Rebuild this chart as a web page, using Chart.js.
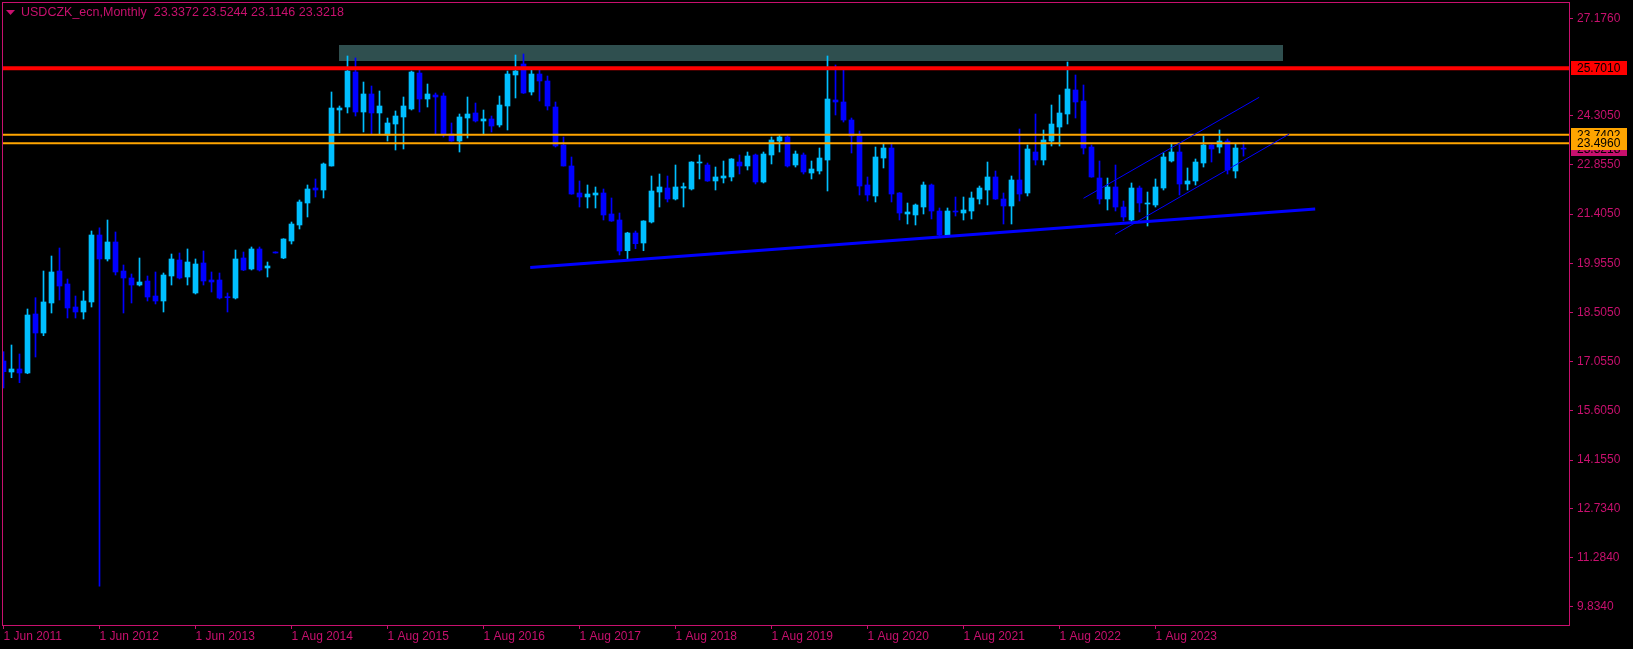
<!DOCTYPE html>
<html>
<head>
<meta charset="utf-8">
<script src="https://cdn.jsdelivr.net/npm/chart.js@4.4.1/dist/chart.umd.min.js"></script>
<style>
  html, body { margin: 0; padding: 0; background: #000; overflow: hidden; }
</style>
</head>
<body>
<canvas id="chart" width="1633" height="649"></canvas>
<script>
const FG = "#c8106e";
const BULL = "#00bfff";
const BEAR = "#0000ff";
const FONT = "Liberation Sans";

const title = "USDCZK_ecn,Monthly  23.3372 23.5244 23.1146 23.3218";

// monthly bars, index 0 = Jun 2011
const opens = [
  17.076, 16.751, 16.840, 16.722, 18.461, 17.901, 18.785, 19.728, 19.345, 18.667,
  18.520, 18.815, 20.789, 20.082, 20.583, 19.728, 19.522, 19.315, 19.433, 18.991,
  18.844, 19.581, 20.052, 19.551, 19.080, 19.964, 19.463, 19.463, 18.962, 18.932,
  20.111, 19.787, 20.377, 19.817, 20.288, 20.111, 20.612, 21.084, 21.732, 22.174,
  22.115, 22.823, 24.473, 24.561, 25.593, 24.414, 24.945, 24.385, 23.736, 24.060,
  24.267, 24.503, 25.563, 24.797, 24.915, 24.886, 23.766, 23.559, 24.237, 24.385,
  24.149, 24.208, 24.031, 24.591, 25.505, 25.829, 25.004, 25.534, 25.328, 24.561,
  23.442, 22.823, 22.027, 21.909, 21.968, 22.027, 21.408, 21.231, 20.326, 20.848,
  20.553, 21.172, 22.056, 22.174, 21.850, 22.174, 22.145, 22.911, 22.852, 22.381,
  22.469, 22.499, 22.940, 22.823, 23.147, 22.351, 23.147, 23.559, 23.677, 22.852,
  23.147, 22.616, 22.675, 22.999, 24.768, 24.709, 24.178, 23.707, 22.263, 21.939,
  23.058, 23.353, 22.027, 21.408, 21.379, 21.614, 22.263, 21.496, 20.789, 21.496,
  21.437, 21.496, 21.850, 22.115, 22.499, 21.850, 21.644, 22.410, 22.027, 23.235,
  22.999, 23.559, 23.972, 24.355, 25.063, 24.738, 23.382, 22.469, 21.850, 22.204,
  21.614, 21.231, 22.174, 21.703, 21.673, 22.174, 22.970, 23.235, 22.292, 22.381,
  22.911, 23.442, 23.382, 23.559, 22.675, 23.3372
];
const highs = [
  17.350, 17.547, 17.282, 18.608, 18.941, 19.728, 20.170, 20.406, 19.492, 18.991,
  19.139, 20.907, 21.000, 21.231, 20.878, 19.905, 19.640, 20.111, 19.581, 19.699,
  19.669, 20.229, 20.259, 20.377, 20.082, 20.318, 19.699, 19.669, 19.080, 20.347,
  20.288, 20.436, 20.436, 19.993, 20.295, 20.680, 21.172, 21.821, 22.263, 22.440,
  22.911, 25.004, 24.591, 26.065, 26.006, 25.298, 25.180, 25.033, 24.237, 24.444,
  24.856, 25.622, 25.652, 25.239, 24.974, 24.974, 24.090, 24.355, 24.856, 24.679,
  24.473, 24.296, 24.886, 25.622, 26.094, 26.124, 25.652, 25.652, 25.475, 24.709,
  23.677, 23.088, 22.381, 22.263, 22.204, 22.145, 21.880, 21.437, 20.870, 20.907,
  21.210, 22.528, 22.587, 22.528, 22.852, 22.322, 22.950, 23.147, 22.911, 22.793,
  22.970, 23.040, 23.147, 23.235, 23.176, 23.235, 23.677, 23.736, 23.736, 23.265,
  23.206, 22.970, 23.353, 26.065, 25.799, 25.652, 24.237, 23.854, 22.499, 23.382,
  23.471, 23.471, 22.040, 21.732, 21.703, 22.351, 22.292, 21.585, 21.585, 21.909,
  21.909, 22.056, 22.233, 22.940, 22.675, 22.027, 22.528, 23.913, 23.442, 24.355,
  23.884, 24.620, 24.915, 25.888, 25.505, 25.210, 23.442, 22.970, 22.469, 22.852,
  21.791, 22.322, 22.233, 22.056, 22.440, 23.206, 23.471, 23.442, 22.764, 23.029,
  23.707, 23.450, 23.884, 23.618, 23.471, 23.5244
];
const lows = [
  16.280, 16.583, 16.436, 16.701, 17.193, 17.821, 18.490, 18.873, 18.343, 18.343,
  18.313, 18.667, 10.440, 20.023, 19.610, 18.490, 18.785, 19.286, 18.844, 18.756,
  18.520, 19.315, 19.492, 19.315, 19.050, 19.315, 19.109, 18.903, 18.520, 18.903,
  19.740, 19.758, 19.728, 19.551, 20.255, 20.090, 20.524, 20.966, 21.320, 21.909,
  21.880, 22.820, 23.795, 24.385, 24.296, 23.825, 23.766, 23.766, 23.559, 23.294,
  23.324, 24.473, 24.414, 24.561, 23.766, 23.677, 23.550, 23.235, 23.648, 24.119,
  23.766, 23.825, 23.972, 23.884, 24.827, 24.960, 24.915, 24.738, 24.473, 23.382,
  22.820, 21.990, 21.614, 21.585, 21.585, 21.231, 21.190, 20.200, 20.091, 20.385,
  20.326, 21.143, 21.614, 21.762, 21.821, 21.614, 22.115, 22.440, 22.370, 22.115,
  22.322, 22.381, 22.587, 22.705, 22.292, 22.322, 22.882, 23.235, 22.793, 22.793,
  22.587, 22.440, 22.587, 22.086, 24.326, 24.119, 23.206, 21.968, 21.791, 21.762,
  22.764, 21.762, 21.231, 21.113, 21.084, 21.408, 21.261, 20.750, 20.770, 21.349,
  21.231, 21.261, 21.703, 21.673, 21.840, 21.113, 21.113, 21.791, 21.939, 22.852,
  22.852, 23.412, 23.412, 24.060, 24.237, 23.176, 22.490, 21.703, 21.526, 21.496,
  21.202, 21.172, 21.467, 21.054, 21.614, 22.115, 22.940, 21.968, 22.115, 22.263,
  22.793, 22.940, 23.206, 22.587, 22.469, 23.1146
];
const closes = [
  16.760, 16.840, 16.722, 18.431, 17.901, 18.815, 19.699, 19.286, 18.638, 18.520,
  18.844, 20.789, 20.082, 20.583, 19.699, 19.522, 19.315, 19.404, 18.962, 18.844,
  19.610, 20.082, 19.522, 19.993, 19.934, 19.433, 19.404, 18.932, 18.941, 20.082,
  19.758, 20.377, 19.758, 19.876, 20.259, 20.671, 21.113, 21.762, 22.145, 22.115,
  22.882, 24.532, 24.532, 25.622, 24.414, 24.945, 24.385, 24.591, 24.090, 24.296,
  24.591, 25.593, 24.797, 24.945, 24.856, 23.766, 23.559, 24.267, 24.355, 24.149,
  24.208, 24.001, 24.620, 25.534, 25.622, 24.974, 25.534, 25.328, 24.591, 23.412,
  22.823, 21.997, 21.909, 21.997, 22.027, 21.379, 21.202, 20.318, 20.848, 20.533,
  21.202, 22.086, 22.204, 21.850, 22.204, 22.213, 22.940, 22.940, 22.381, 22.499,
  22.528, 23.029, 22.823, 23.117, 22.351, 23.176, 23.589, 23.677, 22.823, 23.176,
  22.646, 22.734, 23.058, 24.797, 24.709, 24.178, 23.707, 22.233, 21.968, 23.088,
  23.353, 21.997, 21.437, 21.467, 21.673, 22.263, 21.496, 20.789, 21.496, 21.467,
  21.526, 21.880, 22.174, 22.499, 21.850, 21.644, 22.410, 21.997, 23.324, 22.999,
  23.589, 24.060, 24.385, 25.092, 24.709, 23.353, 22.499, 21.850, 22.204, 21.614,
  21.320, 22.174, 21.732, 21.732, 22.204, 23.088, 23.235, 22.292, 22.381, 22.940,
  23.442, 23.324, 23.559, 22.705, 23.353, 23.3218
];

const dateTicks = [0, 12, 24, 36, 48, 60, 72, 84, 96, 108, 120, 132, 144];
const dateLabels = ["1 Jun 2011", "1 Jun 2012", "1 Jun 2013", "1 Aug 2014", "1 Aug 2015", "1 Aug 2016",
  "1 Aug 2017", "1 Aug 2018", "1 Aug 2019", "1 Aug 2020", "1 Aug 2021", "1 Aug 2022", "1 Aug 2023"];
const priceTicks = [27.176, 24.305, 22.855, 21.405, 19.955, 18.505, 17.055, 15.605, 14.155, 12.734, 11.284, 9.834];

// drawn objects
const resistance = 25.701;
const orangeLevels = [23.7402, 23.496];
const lastPrice = 23.3218;
const zoneBars = [41.96, 159.96];
const zonePrices = [26.389, 25.917];
const supportLine = [[65.84, 19.831], [163.96, 21.555]];
const channelTop = [[135.0, 21.871], [156.96, 24.847]];
const channelBottom = [[138.96, 20.810], [160.71, 23.763]];

const X_MIN = -0.1875, X_MAX = 195.6875;
const Y_MIN = 9.295, Y_MAX = 27.656;

const dirColors = closes.map((c, i) => c >= opens[i] ? BULL : BEAR);
const toPts = arr => arr.map(p => ({ x: p[0], y: p[1] }));
const flat = v => [{ x: X_MIN - 1, y: v }, { x: X_MAX + 1, y: v }];

function lineSet(data, color, width) {
    return { type: "line", data, borderColor: color, borderWidth: width, pointRadius: 0, clip: 0, order: 0, tension: 0 };
}

// scale paddings from labels would shrink the plot; keep the plot edge fixed
function fixSize(prop, size) {
    return s => {
        s[prop] = size;
        s.paddingLeft = 0; s.paddingRight = 0; s.paddingTop = 0; s.paddingBottom = 0;
    };
}

const overlay = {
    id: "overlay",
    beforeDatasetsDraw(chart) {
        const { ctx, chartArea: a, scales: { x, y } } = chart;
        ctx.save();
        ctx.beginPath();
        ctx.rect(a.left, a.top, a.right - a.left, a.bottom - a.top);
        ctx.clip();
        const x0 = x.getPixelForValue(zoneBars[0]), x1 = x.getPixelForValue(zoneBars[1]);
        const y0 = y.getPixelForValue(zonePrices[0]), y1 = y.getPixelForValue(zonePrices[1]);
        ctx.fillStyle = "#2f4f4f";
        ctx.fillRect(Math.round(x0), Math.round(y0), Math.round(x1 - x0), Math.round(y1 - y0));
        ctx.restore();
    },
    afterDraw(chart) {
        const { ctx, chartArea: a, scales: { y } } = chart;
        ctx.save();
        // frame
        ctx.strokeStyle = FG;
        ctx.lineWidth = 1;
        ctx.strokeRect(a.left + 0.5, a.top + 0.5, a.right - a.left, a.bottom - a.top);

        // title
        ctx.fillStyle = FG;
        ctx.beginPath();
        ctx.moveTo(6, 10); ctx.lineTo(15, 10); ctx.lineTo(10.5, 15); ctx.closePath();
        ctx.fill();
        ctx.font = "12.5px '" + FONT + "'";
        ctx.textBaseline = "middle";
        ctx.textAlign = "left";
        ctx.fillText(title, 21, 13);

        // price tags
        ctx.font = "12px '" + FONT + "'";
        const tag = (v, bg) => {
            const py = Math.round(y.getPixelForValue(v));
            ctx.fillStyle = bg;
            ctx.fillRect(a.right + 2, py - 7, 56, 14);
            ctx.fillStyle = "#000";
            ctx.fillText(v.toFixed(4), a.right + 8, py + 0.5);
        };
        tag(lastPrice, FG);
        orangeLevels.forEach(v => tag(v, "#ffa500"));
        tag(resistance, "#ff0000");
        ctx.restore();
    }
};

new Chart(document.getElementById("chart"), {
    type: "bar",
    data: {
        datasets: [
            lineSet(toPts(supportLine), BEAR, 3),
            lineSet(toPts(channelTop), BEAR, 1),
            lineSet(toPts(channelBottom), BEAR, 1),
            lineSet(flat(resistance), "#ff0000", 4),
            ...orangeLevels.map(v => lineSet(flat(v), "#ffa500", 2)),
            {
                label: "body",
                data: opens.map((o, i) => ({ x: i, y: [o, closes[i]] })),
                backgroundColor: dirColors,
                barThickness: 5,
                minBarLength: 1,
                grouped: false,
                borderWidth: 0,
                order: 1
            },
            {
                label: "wick",
                data: opens.map((o, i) => ({ x: i, y: [lows[i], highs[i]] })),
                backgroundColor: dirColors,
                barThickness: 1,
                grouped: false,
                borderWidth: 0,
                order: 2
            }
        ]
    },
    options: {
        responsive: false,
        animation: false,
        layout: { padding: { left: 2, top: 2, right: 0, bottom: 0 } },
        plugins: { legend: { display: false }, tooltip: { enabled: false } },
        scales: {
            x: {
                type: "linear",
                position: "bottom",
                offset: false,
                min: X_MIN,
                max: X_MAX,
                afterFit: fixSize("height", 24),
                afterBuildTicks: s => { s.ticks = dateTicks.map(v => ({ value: v })); },
                ticks: {
                    color: FG,
                    font: { family: FONT, size: 12 },
                    align: "start",
                    maxRotation: 0,
                    autoSkip: false,
                    padding: 0,
                    callback: (v, i) => dateLabels[i]
                },
                grid: { offset: false, drawOnChartArea: false, color: FG, tickLength: 4 },
                border: { color: FG }
            },
            y: {
                type: "linear",
                position: "right",
                min: Y_MIN,
                max: Y_MAX,
                afterFit: fixSize("width", 64),
                afterBuildTicks: s => { s.ticks = priceTicks.map(v => ({ value: v })); },
                ticks: {
                    color: FG,
                    font: { family: FONT, size: 12 },
                    crossAlign: "near",
                    padding: 4,
                    callback: v => v.toFixed(4)
                },
                grid: { drawOnChartArea: false, color: FG, tickLength: 4 },
                border: { color: FG }
            }
        }
    },
    plugins: [overlay]
});
</script>
</body>
</html>
